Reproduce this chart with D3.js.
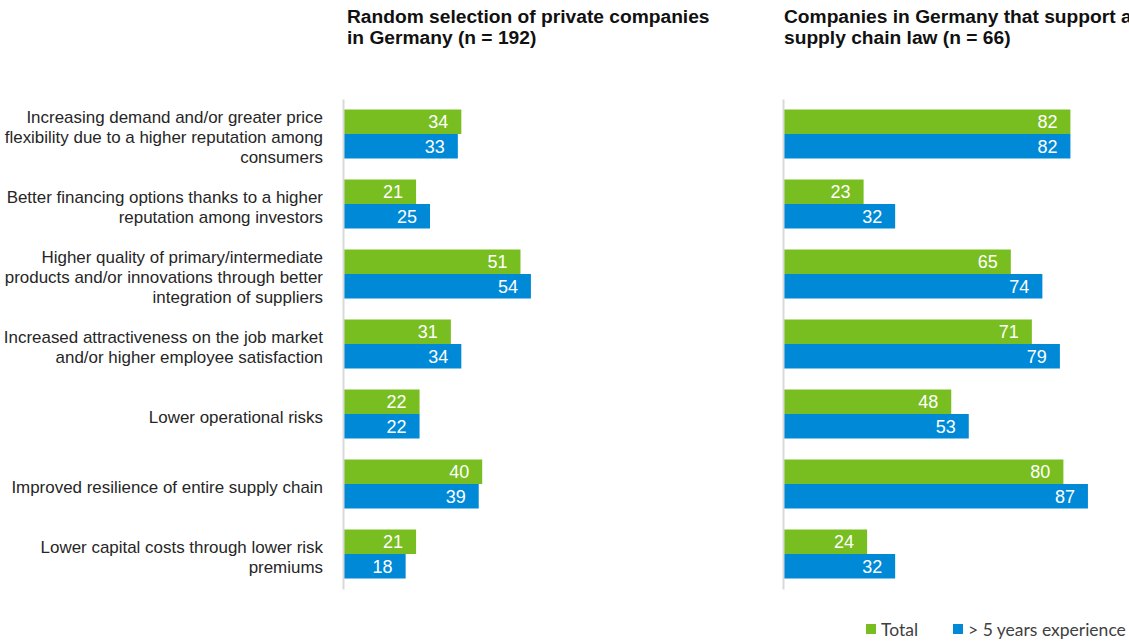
<!DOCTYPE html>
<html>
<head>
<meta charset="utf-8">
<script src="https://cdn.jsdelivr.net/npm/d3@7/dist/d3.min.js"></script>
<style>
  html, body { margin: 0; padding: 0; background: #ffffff; overflow: hidden; }
  svg { display: block; }
</style>
</head>
<body>
<svg id="chart" width="1129" height="642"></svg>
<script>
// Benefits of supply-chain due diligence, share of companies (%)
const categories = [
  ["Increasing demand and/or greater price", "flexibility due to a higher reputation among", "consumers"],
  ["Better financing options thanks to a higher", "reputation among investors"],
  ["Higher quality of primary/intermediate", "products and/or innovations through better", "integration of suppliers"],
  ["Increased attractiveness on the job market", "and/or higher employee satisfaction"],
  ["Lower operational risks"],
  ["Improved resilience of entire supply chain"],
  ["Lower capital costs through lower risk", "premiums"]
];
const seriesNames = ["Total", "> 5 years experience"];

const randomTotal      = [34, 21, 51, 31, 22, 40, 21];
const randomExperience = [33, 25, 54, 34, 22, 39, 18];
const supportTotal      = [82, 23, 65, 71, 48, 80, 24];
const supportExperience = [82, 32, 74, 79, 53, 87, 32];

const panelTitles = [
  ["Random selection of private companies", "in Germany (n = 192)"],
  ["Companies in Germany that support a", "supply chain law (n = 66)"]
];

const colors = ["#78be20", "#0089d6"];

const svg = d3.select("#chart");
const keys = categories.map((d, i) => i);

const y = d3.scaleBand()
  .domain(keys)
  .range([99, 589])
  .paddingInner(0.3)
  .paddingOuter(0.15);

const ySub = d3.scaleBand()
  .domain([0, 1])
  .range([0, y.bandwidth()]);

const panels = [
  { x0: 343, width: 348, values: [randomTotal, randomExperience], title: panelTitles[0], titleX: 347 },
  { x0: 783, width: 350.5, values: [supportTotal, supportExperience], title: panelTitles[1], titleX: 784 }
];

// Category labels on the left
const labelFont = "Liberation Sans, Arial, sans-serif";
const lineH = 19.8;
const catG = svg.append("g");
categories.forEach((lines, i) => {
  const cy = y(i) + y.bandwidth() / 2;
  const t = catG.append("text")
    .attr("x", 323)
    .attr("text-anchor", "end")
    .attr("font-family", labelFont)
    .attr("font-size", 16.95)
    .attr("fill", "#262626");
  lines.forEach((ln, j) => {
    t.append("tspan")
      .attr("x", 323)
      .attr("y", cy + 8.7 + (j - (lines.length - 1) / 2) * lineH)
      .text(ln);
  });
});

panels.forEach(p => {
  const x = d3.scaleLinear().domain([0, 100]).range([p.x0, p.x0 + p.width]);
  const g = svg.append("g");

  // Panel title
  const title = g.append("text")
    .attr("font-family", labelFont)
    .attr("font-weight", "bold")
    .attr("font-size", 19.2)
    .attr("fill", "#111");
  p.title.forEach((ln, j) => {
    title.append("tspan").attr("x", p.titleX).attr("y", 22.5 + j * 21).text(ln);
  });

  // Bars
  p.values.forEach((vals, s) => {
    g.selectAll(null)
      .data(vals)
      .join("rect")
      .attr("x", x(0))
      .attr("y", (d, i) => y(i) + ySub(s))
      .attr("width", d => x(d) - x(0))
      .attr("height", ySub.bandwidth())
      .attr("fill", colors[s]);

    g.selectAll(null)
      .data(vals)
      .join("text")
      .attr("x", d => x(d) - 13)
      .attr("y", (d, i) => y(i) + ySub(s) + ySub.bandwidth() / 2)
      .attr("dy", "0.36em")
      .attr("text-anchor", "end")
      .attr("font-family", labelFont)
      .attr("font-size", 18)
      .attr("fill", "#ffffff")
      .text(d => d);
  });

  // Baseline
  const axis = d3.axisLeft(y).tickSize(0).tickFormat("");
  const ax = g.append("g").attr("transform", `translate(${x(0)},0)`).call(axis);
  ax.select(".domain").attr("stroke", "#d9d9d9").attr("stroke-width", 2);
});

// Legend
const legendFont = "Lato, 'Open Sans', sans-serif";
const legendItems = [
  { name: seriesNames[0], color: colors[0], sx: 866, tx: 881 },
  { name: seriesNames[1], color: colors[1], sx: 953, tx: 968 }
];
const lg = svg.append("g");
legendItems.forEach(it => {
  lg.append("rect").attr("x", it.sx).attr("y", 624).attr("width", 10).attr("height", 10).attr("fill", it.color);
  lg.append("text")
    .attr("x", it.tx)
    .attr("y", 629.5)
    .attr("dy", "0.36em")
    .attr("font-family", legendFont)
    .attr("font-size", 17.5)
    .attr("fill", "#404040")
    .text(it.name);
});
</script>
</body>
</html>
